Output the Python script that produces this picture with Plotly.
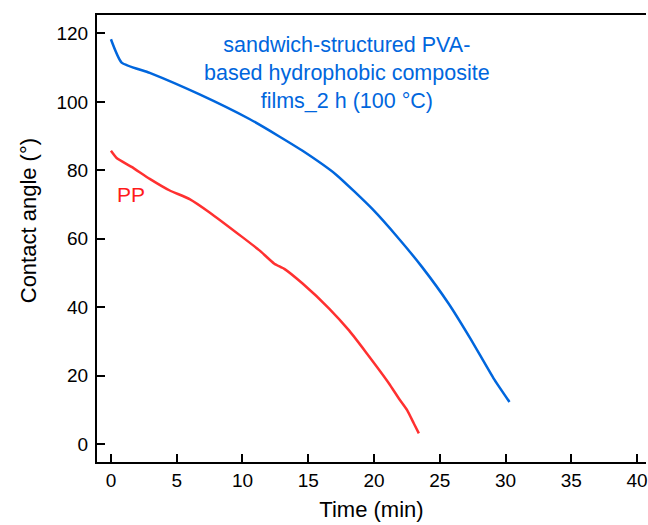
import plotly.graph_objects as go

# Data
blue_time = [0.0, 0.81, 2.95, 6.74, 10.53, 12.8, 14.57, 17.1, 19.87, 21.89, 23.66, 25.68, 27.33, 29.09, 30.3]
blue_angle = [118.3, 111.5, 108.5, 102.2, 95.0, 89.9, 85.7, 78.8, 68.7, 60.0, 51.7, 41.0, 30.8, 19.2, 12.3]

red_time = [0.0, 0.43, 1.57, 2.95, 4.47, 5.98, 7.5, 10.02, 11.29, 12.42, 13.18, 14.57, 16.59, 18.1,
            19.37, 21.14, 21.89, 22.52, 23.03, 23.41]
red_angle = [85.7, 83.6, 81.0, 77.5, 74.1, 71.6, 67.7, 60.4, 56.6, 52.7, 51.2, 46.9, 39.6, 33.2,
             26.9, 17.7, 13.3, 9.9, 6.0, 3.1]

x_ticks = [0, 5, 10, 15, 20, 25, 30, 35, 40]
y_ticks = [0, 20, 40, 60, 80, 100, 120]

BLUE = "#0066DD"
RED = "#FF3030"
FONT = "Liberation Sans, Arial, sans-serif"

fig = go.Figure()
fig.add_trace(go.Scatter(x=blue_time, y=blue_angle, mode="lines",
                         line=dict(color=BLUE, width=2.5, shape="spline", smoothing=0.5),
                         showlegend=False))
fig.add_trace(go.Scatter(x=red_time, y=red_angle, mode="lines",
                         line=dict(color=RED, width=2.5, shape="spline", smoothing=0.4),
                         showlegend=False))

fig.update_layout(
    width=648, height=525,
    margin=dict(l=97, r=0, t=15, b=63),
    paper_bgcolor="white", plot_bgcolor="white",
    font=dict(family=FONT, color="black"),
    xaxis=dict(range=[-1.06, 40.68], tickvals=x_ticks, ticks="inside", ticklen=8, tickwidth=2,
               tickcolor="black", showline=True, linecolor="black", linewidth=2, mirror=True,
               showgrid=False, zeroline=False, tickfont=dict(size=19), ticklabeloverflow="allow",
               title=dict(text="Time (min)", font=dict(size=22), standoff=12)),
    yaxis=dict(range=[-5.26, 125.4], tickvals=y_ticks, ticks="inside", ticklen=8, tickwidth=2,
               tickcolor="black", showline=True, linecolor="black", linewidth=2, mirror=False,
               showgrid=False, zeroline=False, tickfont=dict(size=19), ticklabelstandoff=3),
    annotations=[
        dict(text="sandwich-structured PVA-<br>based hydrophobic composite<br>films_2 h (100 °C)",
             xref="paper", yref="paper", x=(348 - 97) / 551, y=1 - (73 - 15) / 447,
             xanchor="center", yanchor="middle", showarrow=False, align="center",
             font=dict(size=21.5, color=BLUE)),
        dict(text="PP", xref="paper", yref="paper", x=(115 - 97) / 551, y=1 - (194 - 15) / 447,
             xanchor="left", yanchor="middle", showarrow=False,
             font=dict(size=21, color="#FF1A1A")),
        dict(text="Contact angle (°)", xref="paper", yref="paper", textangle=-90,
             x=(28 - 97) / 551, y=1 - (221 - 15) / 447, xanchor="center", yanchor="middle",
             showarrow=False, font=dict(size=22, color="black")),
    ],
)

fig.write_html("out.html")
